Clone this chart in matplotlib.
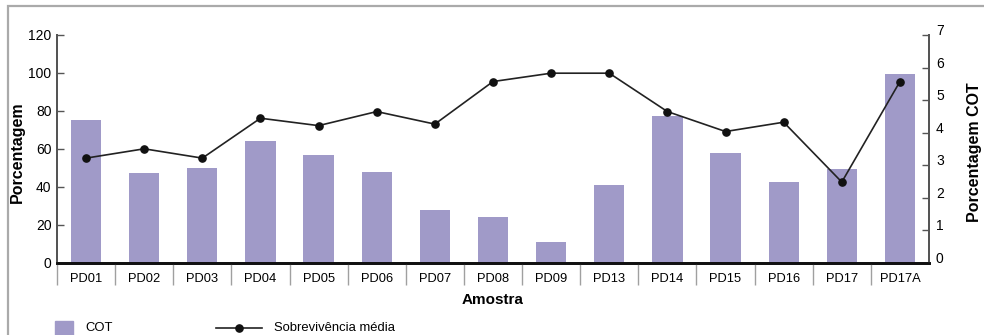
import matplotlib
matplotlib.use("Agg")
import matplotlib.pyplot as plt
from matplotlib.patches import Rectangle
from matplotlib.lines import Line2D

plt.rcParams['font.family'] = ['Liberation Sans', 'DejaVu Sans']

amostras = ["PD01", "PD02", "PD03", "PD04", "PD05", "PD06", "PD07", "PD08",
            "PD09", "PD13", "PD14", "PD15", "PD16", "PD17", "PD17A"]
cot = [4.39, 2.77, 2.92, 3.75, 3.32, 2.79, 1.62, 1.42, 0.66, 2.40,
       4.51, 3.39, 2.48, 2.88, 5.79]
sobrevivencia = [55.2, 60.1, 55.2, 76.2, 72.3, 79.7, 73.1, 95.5, 99.9, 99.9,
                 79.7, 69.2, 74.1, 42.6, 95.5]
ticks_pct = [0, 20, 40, 60, 80, 100, 120]
ticks_cot = [0, 1, 2, 3, 4, 5, 6, 7]

W, H = 984, 335
fig = plt.figure(figsize=(W / 100, H / 100), dpi=100)
fig.patch.set_facecolor("white")


def fx(px):
    return px / W


def fy(py):
    return 1 - py / H


ax = fig.add_axes([fx(57), fy(263), fx(929) - fx(57), fy(35) - fy(263)])
ax2 = ax.twinx()

x = list(range(len(amostras)))

# COT bars on the right-hand axis
ax2.bar(x, cot, width=0.52, color="#a09ac8", edgecolor="none", zorder=2)
ax2.set_ylim(0, 7)
ax2.set_yticks(ticks_cot)
ax2.tick_params(axis="y", direction="in", length=5, width=1, color="#555555",
                pad=5, labelsize=10)
for lab in ax2.get_yticklabels():
    lab.set_va("baseline")

# Mean survival line on the left-hand axis, kept above the bars
ax.plot(x, sobrevivencia, color="#222222", lw=1.2, marker="o", ms=5.2,
        mfc="#111111", mec="#111111", zorder=5)
ax.set_zorder(ax2.get_zorder() + 1)
ax.patch.set_visible(False)
ax.set_ylim(0, 120)
ax.set_yticks(ticks_pct)
ax.set_xlim(-0.5, len(amostras) - 0.5)
ax.tick_params(axis="y", direction="in", length=5, width=1, color="#555555",
               pad=4, labelsize=10)

ax.set_xticks(x)
ax.set_xticklabels(amostras)
ax.tick_params(axis="x", which="major", length=0, pad=7, labelsize=9.3)
ax.set_xticks([i - 0.5 for i in x], minor=True)
ax.tick_params(axis="x", which="minor", direction="out", length=15.5,
               width=1, color="#a0a0a0")

for a in (ax, ax2):
    a.spines["top"].set_visible(False)
    a.spines["left"].set_color("#555555")
    a.spines["right"].set_color("#555555")
    a.spines["left"].set_linewidth(1.4)
    a.spines["right"].set_linewidth(1.4)
    a.spines["bottom"].set_color("#111111")
    a.spines["bottom"].set_linewidth(2)
ax2.tick_params(axis="x", length=0)

# Axis titles
fig.text(fx(17), fy(152), "Porcentagem", rotation=90, ha="center",
         va="center", fontsize=11.5, fontweight="bold")
fig.text(fx(975), fy(152), "Porcentagem COT", rotation=90, ha="center",
         va="center", fontsize=11.5, fontweight="bold")
fig.text(fx(493), fy(300), "Amostra", ha="center", va="center",
         fontsize=11, fontweight="bold")

# Legend along the bottom edge
fig.patches.append(Rectangle((fx(55), fy(339)), fx(18), fy(321) - fy(339),
                             transform=fig.transFigure, color="#a09ac8"))
fig.text(fx(85), fy(328), "COT", ha="left", va="center", fontsize=9.4)
fig.lines.append(Line2D([fx(216), fx(262)], [fy(327.5), fy(327.5)],
                        transform=fig.transFigure, color="#222222", lw=1.2))
fig.lines.append(Line2D([fx(239)], [fy(327.5)], transform=fig.transFigure,
                        marker="o", ms=5.2, color="#111111", lw=0))
fig.text(fx(274), fy(328), "Sobrevivência média", ha="left", va="center",
         fontsize=9.4)

# Outer frame (left and top edges fall inside the canvas)
fig.patches.append(Rectangle((fx(8), fy(345)), fx(1000) - fx(8),
                             fy(6) - fy(345), transform=fig.transFigure,
                             fill=False, edgecolor="#aaaaaa", lw=1.6))

fig.savefig("out.png", dpi=100)
